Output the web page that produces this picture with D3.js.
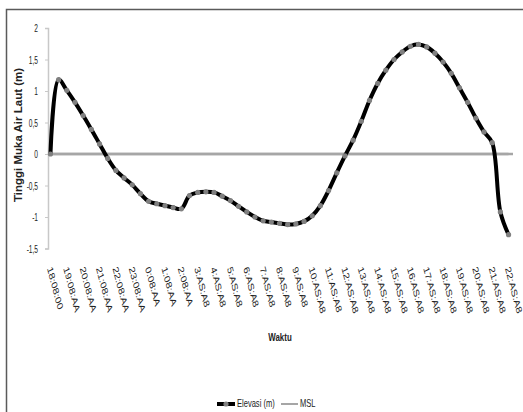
<!DOCTYPE html>
<html>
<head>
<meta charset="utf-8">
<script src="https://cdn.jsdelivr.net/npm/d3@7"></script>
<style>
  html, body { margin: 0; padding: 0; background: #fff; }
  svg { display: block; font-family: "Liberation Sans", Arial, sans-serif; }
</style>
</head>
<body>
<svg id="chart" width="523" height="412"></svg>
<script>
// ---- data ----
const elevasi = [
  0.00, 1.18, 1.01, 0.82, 0.61, 0.39, 0.16, -0.07, -0.26, -0.38,
  -0.49, -0.63, -0.75, -0.79, -0.82, -0.85, -0.87, -0.66, -0.61, -0.60,
  -0.61, -0.67, -0.74, -0.83, -0.92, -1.00, -1.06, -1.08, -1.10, -1.12,
  -1.11, -1.07, -0.98, -0.82, -0.58, -0.30, -0.03, 0.22, 0.52, 0.85,
  1.12, 1.33, 1.50, 1.62, 1.71, 1.74, 1.70, 1.60, 1.46, 1.28,
  1.05, 0.82, 0.57, 0.35, 0.18, -0.92, -1.28
];
const msl = elevasi.map(() => 0);
const tickLabels = [
  "18:08:00", "19:08:AA", "20:08:AA", "21:08:AA", "22:08:AA", "23:08:AA",
  "0:08:AA", "1:08:AA", "2:08:AA", "3:AS:A8", "4:AS:A8", "5:AS:A8",
  "6:AS:A8", "7:AS:A8", "8:AS:A8", "9:AS:A8", "10:AS:A8", "11:AS:A8",
  "12:AS:A8", "13:AS:A8", "14:AS:A8", "15:AS:A8", "16:AS:A8", "17:AS:A8",
  "18:AS:A8", "19:AS:A8", "20:AS:A8", "21:AS:A8", "22:AS:A8"
];
const labelStep = 2;   // one tick label every 2 categories
const yTicks = [-1.5, -1, -0.5, 0, 0.5, 1, 1.5, 2];
const yTitle = "Tinggi Muka Air Laut (m)";
const xTitle = "Waktu";
const legendNames = ["Elevasi (m)", "MSL"];

// ---- layout ----
const svg = d3.select("#chart");
const plot = { left: 48, right: 511, top: 28, bottom: 248.5, axisEnd: 513 };
const squeeze = 0.72;

const x = d3.scalePoint()
  .domain(d3.range(elevasi.length))
  .range([plot.left, plot.right])
  .padding(0.3);
const y = d3.scaleLinear().domain([-1.5, 2]).range([plot.bottom, plot.top]);

// frame
svg.append("rect")
  .attr("x", 6.5).attr("y", 9.5).attr("width", 540).attr("height", 420)
  .attr("fill", "none").attr("stroke", "#5a5a5a").attr("stroke-width", 1.5);

// y axis
const yAxis = svg.append("g")
  .attr("transform", `translate(${plot.left},0)`)
  .call(d3.axisLeft(y).tickValues(yTicks).tickSize(3)
        .tickFormat(d => String(d).replace(".", ",")));
yAxis.select(".domain").attr("stroke", "#c8c8c8").attr("stroke-width", 1.5);
yAxis.selectAll(".tick line").attr("stroke", "#c8c8c8");
yAxis.selectAll(".tick text")
  .attr("x", null).attr("dy", null)
  .attr("text-anchor", "end")
  .attr("dominant-baseline", "central")
  .attr("fill", "#222")
  .attr("font-size", 11)
  .attr("transform", `translate(-10,0) scale(0.6,1)`);

// x tick labels (low position)
const xAxis = svg.append("g")
  .attr("transform", `translate(0,${plot.bottom})`)
  .call(d3.axisBottom(x)
        .tickValues(tickLabels.map((_, i) => i * labelStep))
        .tickSize(0)
        .tickFormat(d => tickLabels[d / labelStep]));
xAxis.select(".domain").remove();
xAxis.selectAll(".tick text")
  .attr("x", null).attr("y", null).attr("dy", null)
  .attr("text-anchor", "start")
  .attr("fill", "#222")
  .attr("font-size", 11.5)
  .attr("transform", `translate(-4,20) scale(${squeeze},1) rotate(70)`);

// horizontal axis line at 0
svg.append("line")
  .attr("x1", plot.left).attr("x2", plot.axisEnd)
  .attr("y1", y(0)).attr("y2", y(0))
  .attr("stroke", "#a6a6a6").attr("stroke-width", 2.5);

// MSL series
svg.append("path")
  .datum(msl)
  .attr("fill", "none")
  .attr("stroke", "#a6a6a6").attr("stroke-width", 2.5)
  .attr("d", d3.line().x((d, i) => x(i)).y(d => y(d)));

// Elevasi series
svg.append("path")
  .datum(elevasi)
  .attr("fill", "none")
  .attr("stroke", "#000").attr("stroke-width", 4)
  .attr("stroke-linejoin", "round")
  .attr("d", d3.line().x((d, i) => x(i)).y(d => y(d)).curve(d3.curveCatmullRom.alpha(0.5)));

svg.append("g").selectAll("circle")
  .data(elevasi)
  .join("circle")
  .attr("cx", (d, i) => x(i))
  .attr("cy", d => y(d))
  .attr("r", 2.6)
  .attr("fill", "#808080");

// axis titles
svg.append("text")
  .attr("transform", `translate(18,135) rotate(-90)`)
  .attr("text-anchor", "middle")
  .attr("dominant-baseline", "central")
  .attr("font-size", 11.5).attr("font-weight", "bold").attr("fill", "#222")
  .text(yTitle);

svg.append("text")
  .attr("transform", `translate(280,337) scale(${squeeze},1)`)
  .attr("text-anchor", "middle")
  .attr("dominant-baseline", "central")
  .attr("font-size", 11).attr("font-weight", "bold").attr("fill", "#222")
  .text(xTitle);

// legend
const lg = svg.append("g").attr("transform", "translate(0,404)");
lg.append("line").attr("x1", 217).attr("x2", 235).attr("y1", 0).attr("y2", 0)
  .attr("stroke", "#000").attr("stroke-width", 4);
lg.append("circle").attr("cx", 226).attr("cy", 0).attr("r", 2.6).attr("fill", "#808080");
lg.append("text")
  .attr("transform", `translate(237,0) scale(${squeeze},1)`)
  .attr("dominant-baseline", "central")
  .attr("font-size", 10.5).attr("fill", "#222")
  .text(legendNames[0]);
lg.append("line").attr("x1", 281).attr("x2", 298).attr("y1", 0).attr("y2", 0)
  .attr("stroke", "#a6a6a6").attr("stroke-width", 2);
lg.append("text")
  .attr("transform", `translate(300,0) scale(${squeeze},1)`)
  .attr("dominant-baseline", "central")
  .attr("font-size", 10.5).attr("fill", "#222")
  .text(legendNames[1]);
</script>
</body>
</html>
